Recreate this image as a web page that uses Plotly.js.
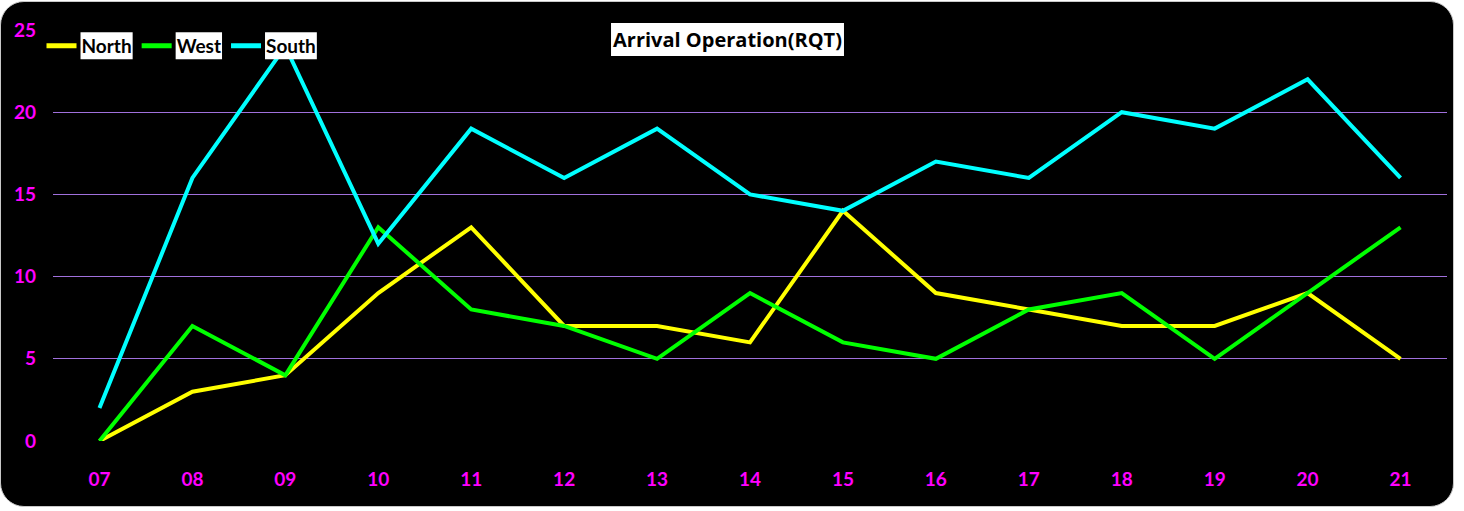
<!DOCTYPE html>
<html>
<head>
<meta charset="utf-8">
<script src="https://cdn.plot.ly/plotly-3.0.1.min.js"></script>
<style>
  html, body { margin:0; padding:0; background:#ffffff; }
  #frame { position:absolute; left:0; top:1px; width:1454px; height:506px; background:#000; border-radius:24px; border:1px solid #c8c8c8; box-sizing:border-box; }
  #chart { position:absolute; left:0; top:0; width:1464px; height:511px; }
</style>
</head>
<body>
<div id="frame"></div>
<div id="chart"></div>
<script>
const hours = ["07","08","09","10","11","12","13","14","15","16","17","18","19","20","21"];
const north = [0,3,4,9,13,7,7,6,14,9,8,7,7,9,5];
const west  = [0,7,4,13,8,7,5,9,6,5,8,9,5,9,13];
const south = [2,16,24,12,19,16,19,15,14,17,16,20,19,22,16];
const yTicks = [0,5,10,15,20,25];

const FONT = "Lato, 'Open Sans', sans-serif";

function tr(name, y, color) {
  return { type:"scatter", mode:"lines", name:name, x:hours, y:y,
           line:{color:color, width:4}, hoverinfo:"x+y+name" };
}

const data = [
  tr("North", north, "#ffff00"),
  tr("West", west, "#00ff00"),
  tr("South", south, "#00ffff")
];

const PW = 1395, PH = 411;

const layout = {
  width:1464, height:511,
  paper_bgcolor:"rgba(0,0,0,0)", plot_bgcolor:"rgba(0,0,0,0)",
  margin:{l:52.5, r:16.5, t:30, b:70},
  font:{family:FONT},
  title:{text:"<b>Arrival Operation(RQT)</b>", font:{family:"'Open Sans', sans-serif", size:20, color:"#000"},
         xref:"container", yref:"container", x:727.5/1464, y:1-40/511, xanchor:"center", yanchor:"middle"},
  showlegend:true,
  legend:{orientation:"h", xref:"paper", yref:"paper", x:(41-52.5)/PW, y:(441-46)/PH,
          xanchor:"left", yanchor:"middle", bgcolor:"rgba(0,0,0,0)",
          font:{family:FONT, size:19, color:"#000", weight:"bold"}, itemclick:false},
  xaxis:{type:"category", range:[-0.5,14.5], showgrid:false, zeroline:false, showline:false,
         ticks:"", tickfont:{family:FONT, size:19, color:"#ff00ff", weight:"bold"}, ticklabelstandoff:25, fixedrange:true},
  yaxis:{range:[0,25], tickvals:yTicks, showgrid:true, gridcolor:"#a070dc", gridwidth:1.2,
         zeroline:true, zerolinecolor:"#000", showline:false, ticks:"",
         tickfont:{family:FONT, size:19, color:"#ff00ff", weight:"bold"}, ticklabelstandoff:16, fixedrange:true}
};

Plotly.newPlot("chart", data, layout, {displayModeBar:false, staticPlot:true}).then(function(gd){
  const NS = "http://www.w3.org/2000/svg";
  function boxBehind(el, padX, padY) {
    const bb = el.getBBox();
    const r = document.createElementNS(NS, "rect");
    r.setAttribute("x", bb.x - padX);
    r.setAttribute("y", bb.y - padY);
    r.setAttribute("width", bb.width + 2*padX);
    r.setAttribute("height", bb.height + 2*padY);
    r.setAttribute("fill", "#ffffff");
    const tf = el.getAttribute("transform");
    if (tf) r.setAttribute("transform", tf);
    el.parentNode.insertBefore(r, el);
  }
  const t = gd.querySelector(".gtitle");
  if (t) boxBehind(t, 2, 3);
  gd.querySelectorAll(".legendtext").forEach(function(el){ boxBehind(el, 1, 2); });
  gd.querySelectorAll(".legendlines path").forEach(function(p){ p.style.strokeWidth = "5px"; });
});
</script>
</body>
</html>
